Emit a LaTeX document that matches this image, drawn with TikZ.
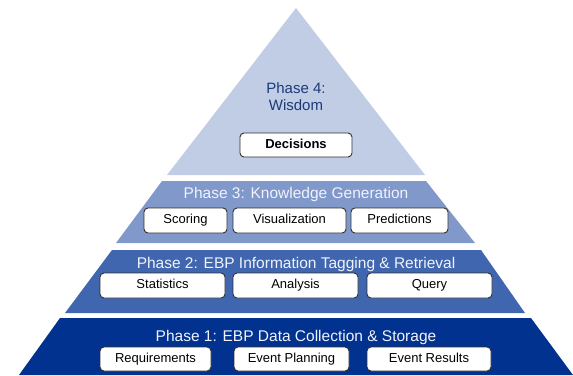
\documentclass[tikz,border=0pt]{standalone}
\usepackage{fontspec}
\setmainfont{Liberation Sans}
\begin{document}
\definecolor{wisdomfill}{HTML}{C1CDE5}
\definecolor{knowfill}{HTML}{8098CA}
\definecolor{infofill}{HTML}{4066AF}
\definecolor{datafill}{HTML}{02328F}
\definecolor{wisdomtext}{HTML}{1B3A78}
\definecolor{labeltext}{HTML}{F0F3FA}
\definecolor{boxline}{HTML}{303030}
\begin{tikzpicture}[x=1pt,y=-1pt,
  itembox/.style={draw=boxline, line width=0.9pt, fill=white, rounded corners=4pt,
    inner sep=0pt, text height=9.5pt, text depth=2.6pt, align=center,
    font=\fontsize{13}{15}\selectfont},
  phaselabel/.style={anchor=base, inner sep=0pt, text=labeltext,
    font=\fontsize{15.5}{18}\selectfont}]
\useasboundingbox (0,0) rectangle (573,375);

% pyramid layers
\fill[wisdomfill] (296,8) -- (425,175) -- (167,175) -- cycle;
\fill[knowfill] (162,181) -- (426,181) -- (475,243) -- (116,243) -- cycle;
\fill[infofill] (112,250) -- (481,250) -- (525,313) -- (65,313) -- cycle;
\fill[datafill] (60,318) -- (531,318) -- (573,375) -- (19,375) -- cycle;

% phase 4
\node[anchor=base, inner sep=0pt, text=wisdomtext, font=\fontsize{15}{18}\selectfont]
  (p4a) at (296,93) {Phase 4:};
\node[anchor=base, inner sep=0pt, text=wisdomtext, font=\fontsize{15}{18}\selectfont]
  (p4b) at (296,110.5) {Wisdom};
\node[itembox, minimum width=112pt, minimum height=24pt, font=\fontsize{13}{15}\selectfont\bfseries]
  (decisions) at (296,145) {Decisions};

% phase 3
\node[phaselabel] (p3) at (296,198) {Phase 3: Knowledge Generation};
\node[itembox, minimum width=83pt, minimum height=25pt] (scoring) at (185.5,220.5) {Scoring};
\node[itembox, minimum width=113pt, minimum height=25pt] (visual) at (289.5,220.5) {Visualization};
\node[itembox, minimum width=97pt, minimum height=25pt] (predict) at (399.5,220.5) {Predictions};

% phase 2
\node[phaselabel] (p2) at (296,268) {Phase 2: EBP Information Tagging \& Retrieval};
\node[itembox, minimum width=125pt, minimum height=25pt] (stats) at (162.5,285.5) {Statistics};
\node[itembox, minimum width=125pt, minimum height=25pt] (analysis) at (295.5,285.5) {Analysis};
\node[itembox, minimum width=125pt, minimum height=25pt] (query) at (429.5,285.5) {Query};

% phase 1
\node[phaselabel] (p1) at (296,341) {Phase 1: EBP Data Collection \& Storage};
\node[itembox, minimum width=111pt, minimum height=24pt] (reqs) at (155.5,359) {Requirements};
\node[itembox, minimum width=115pt, minimum height=24pt] (planning) at (291.5,359) {Event Planning};
\node[itembox, minimum width=124pt, minimum height=24pt] (results) at (429,359) {Event Results};
\end{tikzpicture}
\end{document}
